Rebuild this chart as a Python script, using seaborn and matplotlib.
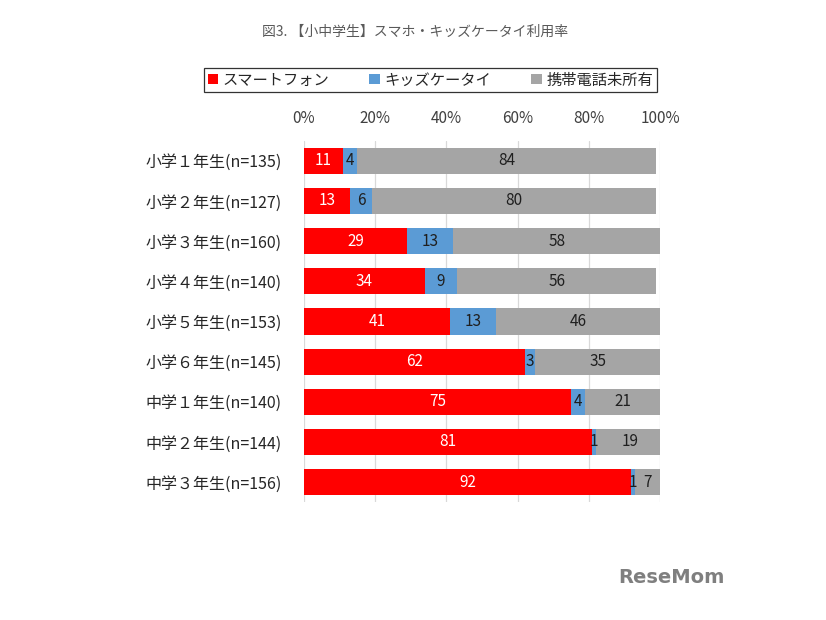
import matplotlib
matplotlib.use("Agg")
import matplotlib.pyplot as plt
import numpy as np
import pandas as pd
import seaborn as sns
from matplotlib.patches import Patch

grades = ["小学１年生(n=135)", "小学２年生(n=127)", "小学３年生(n=160)",
          "小学４年生(n=140)", "小学５年生(n=153)", "小学６年生(n=145)",
          "中学１年生(n=140)", "中学２年生(n=144)", "中学３年生(n=156)"]
smartphone = [11, 13, 29, 34, 41, 62, 75, 81, 92]
kids_phone = [4, 6, 13, 9, 13, 3, 4, 1, 1]
no_phone = [84, 80, 58, 56, 46, 35, 21, 19, 7]
series_names = ["スマートフォン", "キッズケータイ", "携帯電話未所有"]
colors = ["#FF0000", "#5B9BD5", "#A5A5A5"]
title = "図3. 【小中学生】スマホ・キッズケータイ利用率"

sns.set_theme(style="white")
plt.rcParams["font.family"] = ["Noto Sans CJK JP", "DejaVu Sans"]

df = pd.DataFrame({"grade": grades, "s": smartphone, "k": kids_phone, "n": no_phone})
df["c1"] = df["s"]
df["c2"] = df["s"] + df["k"]
df["c3"] = df["s"] + df["k"] + df["n"]

fig = plt.figure(figsize=(8.26, 6.2), dpi=100)
ax = fig.add_axes([0.368, 0.190, 0.431, 0.583])

# overlay cumulative bars (longest first) to get a stacked look
for col, c in zip(["c3", "c2", "c1"], colors[::-1]):
    sns.barplot(data=df, x=col, y="grade", color=c, width=0.65,
                saturation=1, ax=ax, zorder=3, linewidth=0)

# segment labels
for i, row in df.iterrows():
    left = 0
    for v, txtc in zip([row["s"], row["k"], row["n"]], ["white", "#1F1F1F", "#1F1F1F"]):
        ax.text(left + v / 2, i, str(v), ha="center", va="center",
                color=txtc, fontsize=11, zorder=5)
        left += v

ax.set_xlim(0, 100)
ax.set_ylim(len(grades) - 0.5, -0.5)
ax.set_xticks(np.arange(0, 101, 20))
ax.set_xticklabels([f"{t}%" for t in range(0, 101, 20)])
ax.xaxis.tick_top()
ax.tick_params(axis="x", length=0, pad=10, labelsize=11, colors="#404040")
ax.tick_params(axis="y", length=0, pad=16, labelsize=11.5, colors="#262626")
ax.set_xlabel("")
ax.set_ylabel("")
ax.grid(axis="x", color="#D9D9D9", linewidth=0.9, zorder=0)
ax.set_axisbelow(True)
for sp in ax.spines.values():
    sp.set_visible(False)

fig.text(0.503, 0.948, title, ha="center", va="center", fontsize=10, color="#595959")

handles = [Patch(facecolor=c, edgecolor="none") for c in colors]
leg = fig.legend(handles, series_names, loc="center", bbox_to_anchor=(0.521, 0.871),
                 ncol=3, frameon=True, fontsize=11, handlelength=0.7, handleheight=0.7,
                 handletextpad=0.3, columnspacing=2.6, borderpad=0.25, borderaxespad=0,
                 fancybox=False)
leg.get_frame().set_edgecolor("#000000")
leg.get_frame().set_linewidth(0.9)
for t in leg.get_texts():
    t.set_color("#262626")

fig.text(0.813, 0.068, "ReseMom", ha="center", va="center", fontsize=14,
         fontweight="bold", color="#7F7F7F", family=["DejaVu Sans"])

fig.savefig("out.png", dpi=100)
